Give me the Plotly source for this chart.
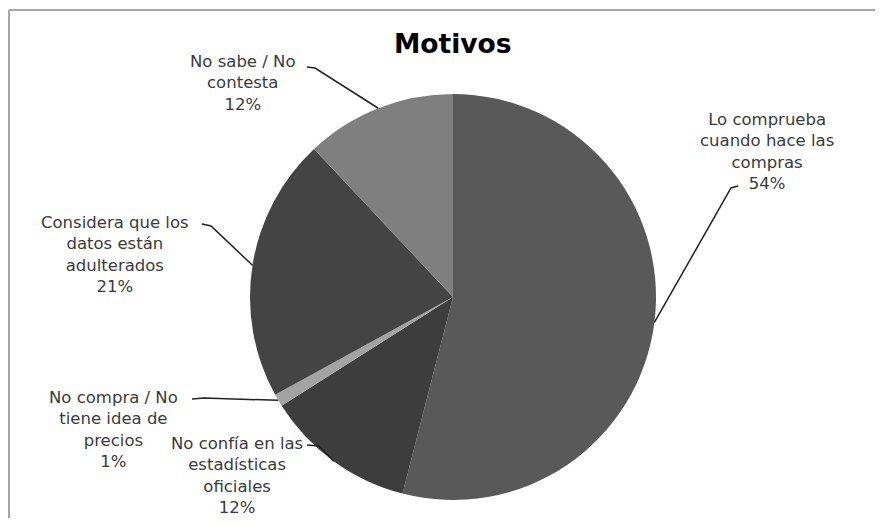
import math
import plotly.graph_objects as go

# ---- data ----
labels = [
    "Lo comprueba cuando hace las compras",
    "No confía en las estadísticas oficiales",
    "No compra / No tiene idea de precios",
    "Considera que los datos están adulterados",
    "No sabe / No contesta",
]
values = [54, 12, 1, 21, 12]
label_lines = [
    ["Lo comprueba", "cuando hace las", "compras"],
    ["No confía en las", "estadísticas", "oficiales"],
    ["No compra / No", "tiene idea de", "precios"],
    ["Considera que los", "datos están", "adulterados"],
    ["No sabe / No", "contesta"],
]
colors = ["#595959", "#3d3d3d", "#a3a3a3", "#444444", "#7f7f7f"]
title_text = "Motivos"

# ---- layout helpers (target-picture pixels -> paper; page has an 8px body margin) ----
OFF = 8
W, H = 883 - 2 * OFF, 526 - 2 * OFF
CX, CY, R = 453, 297, 203


def px(x):
    return (x - OFF) / W


def py(y):
    return 1 - (y - OFF) / H


fig = go.Figure()
fig.add_trace(go.Pie(
    labels=labels,
    values=values,
    sort=False,
    direction="clockwise",
    rotation=0,
    marker=dict(colors=colors, line=dict(width=0)),
    textinfo="none",
    hoverinfo="label+percent",
    showlegend=False,
    domain=dict(x=[px(CX - R), px(CX + R)], y=[py(CY + R), py(CY - R)]),
))

# label text blocks: (center x, center y, start of leader, elbow of leader)
label_pos = [
    (767, 151, (738, 186), (731, 188)),
    (237, 475, (307, 445), (319, 446)),
    (113, 429, (192, 399), (204, 398)),
    (115, 254, (202, 224), (211, 226)),
    (243, 83, (307, 67), (315, 68)),
]

total = sum(values)
cum = 0
annotations = []
shapes = []
for i, v in enumerate(values):
    pct = round(100 * v / total)
    mid = (cum + v / 2) / total * 2 * math.pi
    cum += v
    ex = CX + R * math.sin(mid)
    ey = CY - R * math.cos(mid)
    tx, ty, (sx, sy), (bx, by) = label_pos[i]
    text = "<br>".join(label_lines[i] + [f"{pct}%"])
    annotations.append(dict(
        x=px(tx), y=py(ty), xref="paper", yref="paper",
        text=text, showarrow=False, align="center",
        xanchor="center", yanchor="middle",
        font=dict(family="DejaVu Sans", size=16.5, color="#3a3a3a"),
    ))
    shapes.append(dict(
        type="path", xref="paper", yref="paper",
        path=f"M {px(sx)} {py(sy)} L {px(bx)} {py(by)} L {px(ex)} {py(ey)}",
        line=dict(color="#222222", width=1.5),
    ))

annotations.append(dict(
    x=px(453), y=py(44), xref="paper", yref="paper",
    text=f"<b>{title_text}</b>", showarrow=False,
    xanchor="center", yanchor="middle",
    font=dict(family="DejaVu Sans", size=26.5, color="#000000"),
))

# outer frame: only the top and left edges are visible in the picture
frame_style = dict(color="#a6a6a6", width=2)
shapes.append(dict(type="line", xref="paper", yref="paper",
                   x0=px(9), x1=1.0, y0=py(10), y1=py(10), line=frame_style))
shapes.append(dict(type="line", xref="paper", yref="paper",
                   x0=px(9), x1=px(9), y0=py(10), y1=0.0, line=frame_style))

fig.update_layout(
    width=W, height=H,
    margin=dict(l=0, r=0, t=0, b=0),
    paper_bgcolor="white",
    plot_bgcolor="white",
    annotations=annotations,
    shapes=shapes,
)

fig.write_html("out.html")
